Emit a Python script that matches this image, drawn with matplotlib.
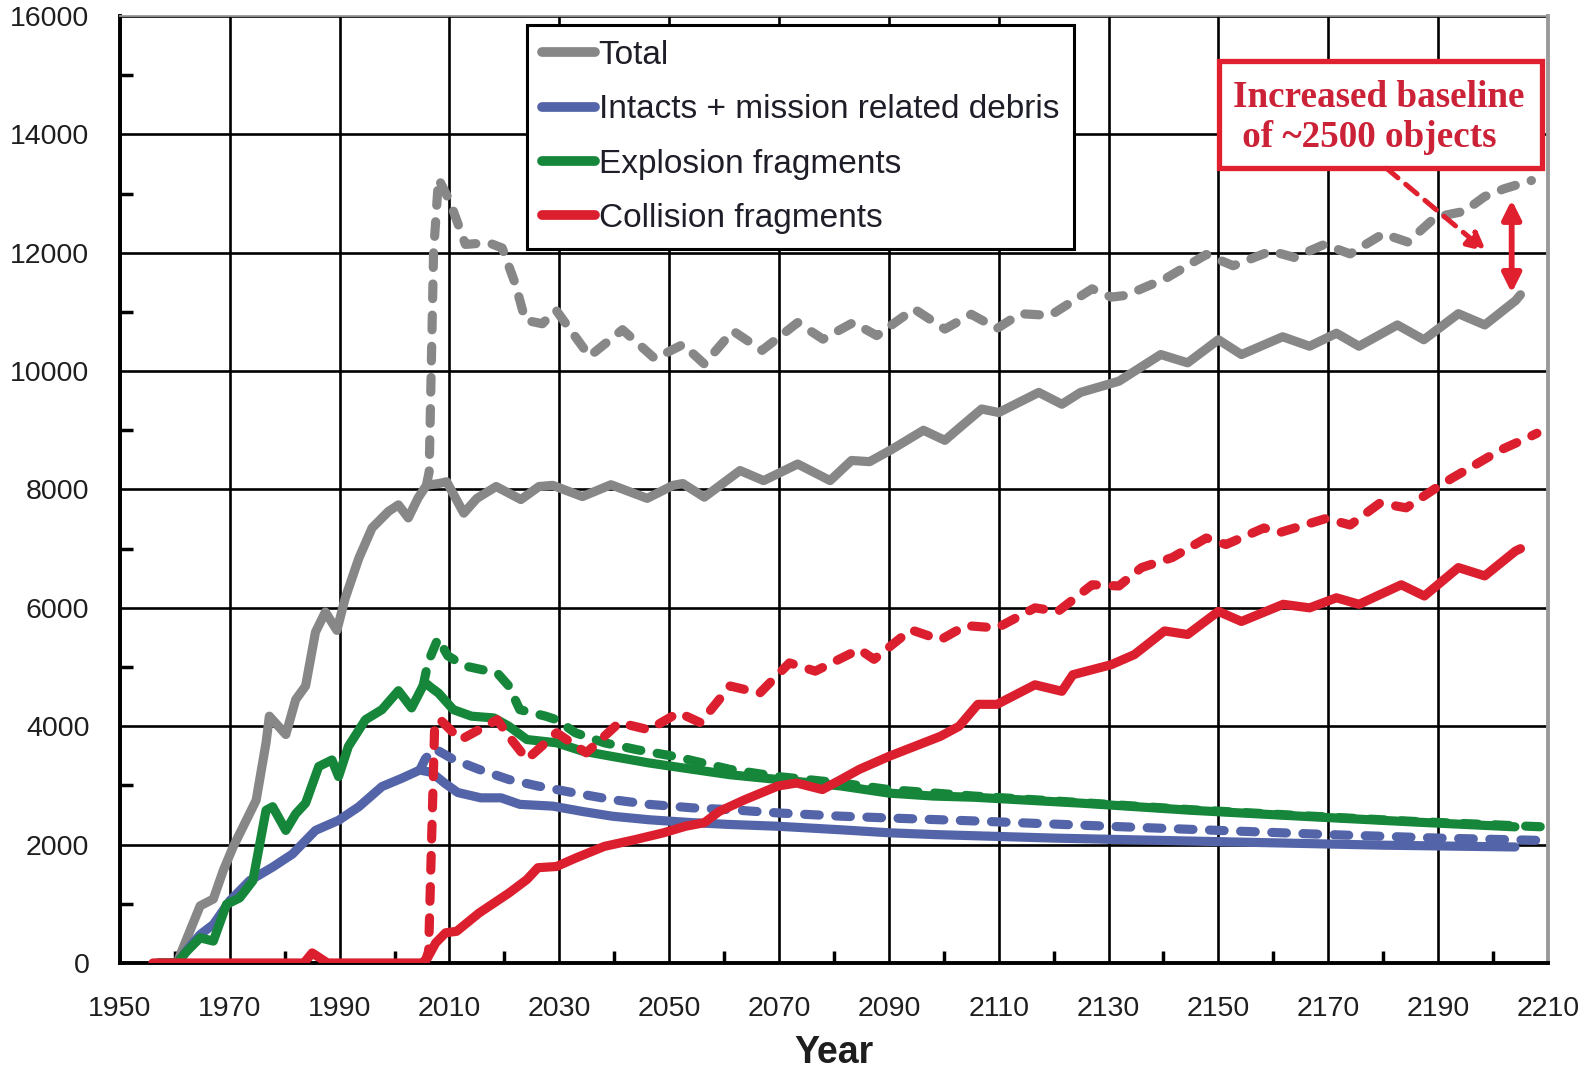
import matplotlib
matplotlib.use("Agg")
import matplotlib.pyplot as plt
from matplotlib.patches import Rectangle

# --- debris population projections (number of objects) ---
total_solid_yr = [1957, 1960.4, 1961.6, 1963, 1964.6, 1967, 1968.8, 1970.6, 1973, 1974.8,
                  1976.6, 1977.2, 1980.2, 1982, 1983.8, 1985.6, 1987.4, 1989.5, 1991, 1993.5,
                  1995.9, 1998.9, 2000.7, 2002.5, 2004.3, 2005.8, 2008, 2009.5, 2012.6, 2015,
                  2018.5, 2023, 2026.3, 2028.8, 2034.2, 2039.4, 2046, 2050.7, 2052.5, 2056.4,
                  2062.9, 2067.2, 2073.4, 2079.3, 2083.2, 2086.5, 2090.4, 2096.3, 2100.2, 2102.7,
                  2106.9, 2110, 2117.3, 2121.5, 2124.9, 2131.9, 2139.5, 2144.4, 2150, 2154.2,
                  2161.7, 2166.6, 2171.5, 2175.6, 2182.6, 2187.4, 2193.7, 2198.5, 2204.1, 2205]
total_solid = [0, 0, 280, 600, 965, 1080, 1560, 1960, 2410, 2750,
               3720, 4170, 3860, 4450, 4680, 5590, 5930, 5620, 6160, 6840,
               7350, 7630, 7740, 7520, 7860, 8070, 8100, 8130, 7600, 7850,
               8050, 7830, 8050, 8070, 7880, 8080, 7850, 8070, 8100, 7870,
               8320, 8150, 8430, 8150, 8490, 8470, 8670, 9000, 8830, 9030,
               9360, 9300, 9640, 9440, 9640, 9830, 10280, 10140, 10530, 10280,
               10580, 10420, 10640, 10420, 10780, 10530, 10970, 10780, 11190, 11290]

total_dash_yr = [2005.8, 2006.3, 2007.1, 2008, 2010.1, 2012.9, 2017.1, 2019.6, 2022, 2023.8,
                 2026.9, 2029.4, 2035.5, 2041.5, 2047.4, 2052.5, 2056.4, 2061.6, 2066.9, 2073.4,
                 2078, 2083.5, 2087.8, 2094.6, 2100.2, 2105, 2109.7, 2113.9, 2119.4, 2127,
                 2130.5, 2133.2, 2140.5, 2147.8, 2152.7, 2159.6, 2163.8, 2169.3, 2174, 2180,
                 2184.5, 2189.5, 2194.8, 2198.5, 2202, 2207]
total_dash = [8070, 8300, 12000, 13250, 12860, 12140, 12170, 12080, 11470, 10860,
              10800, 11030, 10250, 10700, 10210, 10450, 10120, 10680, 10350, 10820,
              10540, 10820, 10600, 11050, 10710, 10960, 10720, 10970, 10940, 11390,
              11250, 11280, 11570, 11970, 11780, 12030, 11920, 12140, 11980, 12320,
              12180, 12600, 12700, 12950, 13080, 13220]

intact_solid_yr = [1957, 1960.4, 1962.5, 1964.6, 1967, 1970, 1973.6, 1977.8, 1981.4, 1985.6,
                   1989.8, 1993.5, 1997.7, 2001.3, 2004.6, 2006.7, 2009.1, 2011.5, 2015.7, 2019.4,
                   2022.8, 2028.8, 2034.2, 2039.6, 2046.3, 2054.4, 2061.1, 2069.8, 2081.3, 2090,
                   2098.1, 2105.5, 2120, 2140, 2160, 2180, 2204]
intact_solid = [0, 0, 250, 480, 650, 1050, 1390, 1620, 1840, 2240,
                2410, 2640, 2980, 3120, 3260, 3220, 3040, 2880, 2790, 2790,
                2680, 2650, 2560, 2480, 2420, 2370, 2340, 2310, 2250, 2200,
                2170, 2150, 2110, 2070, 2030, 1990, 1960]

intact_dash_yr = [2004.6, 2005.6, 2007.3, 2010.7, 2015.4, 2020.8, 2026.1, 2032.9, 2039.6, 2046.3,
                  2054.4, 2061.1, 2069.8, 2081.3, 2090, 2105.5, 2130, 2150, 2170, 2190, 2209]
intact_dash = [3260, 3450, 3620, 3440, 3270, 3100, 2990, 2870, 2760, 2680,
               2620, 2590, 2535, 2480, 2450, 2400, 2310, 2240, 2170, 2110, 2070]

expl_solid_yr = [1957, 1960.4, 1962.2, 1964.6, 1967, 1969.4, 1971.8, 1974.2, 1976.6, 1977.8,
                 1980.2, 1982, 1983.8, 1986.2, 1988.6, 1989.8, 1991.6, 1994.7, 1997.7, 2000.7,
                 2003.1, 2005.5, 2006.7, 2008, 2010.7, 2014, 2018.1, 2020.8, 2024.1, 2029.5,
                 2034.2, 2039.6, 2046.3, 2054.4, 2061.1, 2069.8, 2081.3, 2090, 2098.1, 2105.5,
                 2125, 2145, 2165, 2186, 2204]
expl_solid = [0, 0, 200, 425, 370, 990, 1100, 1390, 2580, 2640,
              2240, 2520, 2700, 3320, 3430, 3150, 3660, 4110, 4280, 4600,
              4310, 4740, 4650, 4560, 4280, 4170, 4140, 4000, 3775, 3720,
              3580, 3490, 3380, 3270, 3180, 3100, 2990, 2870, 2820, 2800,
              2700, 2580, 2480, 2380, 2300]

expl_dash_yr = [2005.2, 2006.1, 2007.9, 2009.7, 2012.7, 2018.7, 2020.8, 2022.8, 2027.5, 2029.5,
                2032.9, 2038.2, 2044.3, 2051, 2061.1, 2069.8, 2081.3, 2090, 2105.5, 2125,
                2145, 2165, 2186, 2209]
expl_dash = [4680, 5080, 5480, 5190, 5020, 4900, 4680, 4280, 4170, 4110,
             3890, 3720, 3600, 3490, 3270, 3150, 3040, 2930, 2820, 2710,
             2590, 2490, 2390, 2300]

coll_solid_yr = [1956, 1983.5, 1985, 1987.8, 2005, 2006, 2007.5, 2009.3, 2011.3, 2015.4,
                 2020.8, 2024.1, 2026.1, 2029.5, 2032.9, 2038.2, 2043.6, 2049, 2053, 2056.4,
                 2059.1, 2063.8, 2069.8, 2073.2, 2077.9, 2081.3, 2084.6, 2090, 2094.7, 2099.4,
                 2102.8, 2106.2, 2109.7, 2116.6, 2121.5, 2123.5, 2130.5, 2134.7, 2140.2, 2144.4,
                 2150, 2154.2, 2161.8, 2166.6, 2171.5, 2175.6, 2183.3, 2187.5, 2193.7, 2198.5,
                 2204.1, 2205]
coll_solid = [0, 0, 170, 0, 0, 85, 340, 510, 535, 845,
              1180, 1410, 1610, 1630, 1770, 1970, 2080, 2200, 2310, 2370,
              2560, 2760, 2990, 3040, 2930, 3100, 3270, 3490, 3660, 3830,
              4000, 4370, 4370, 4700, 4590, 4870, 5040, 5210, 5610, 5550,
              5940, 5770, 6060, 6000, 6170, 6060, 6390, 6200, 6680, 6540,
              6960, 7000]

coll_dash_yr = [2005.5, 2006.2, 2007.3, 2008.2, 2012, 2018.7, 2020.8, 2024.1, 2027.5, 2029.5,
                2034.9, 2040.9, 2046.3, 2051.7, 2055.7, 2061.1, 2066.5, 2071.9, 2076.6, 2084.6,
                2087.3, 2094, 2099.4, 2104, 2109.7, 2116.6, 2120.8, 2127, 2131.9, 2136,
                2141.6, 2147.8, 2151.4, 2158.3, 2161.1, 2169.6, 2174, 2179.4, 2184.2, 2189.7,
                2192.7, 2197, 2201.2, 2206.7, 2208]
coll_dash = [0, 200, 4000, 4120, 3770, 4110, 3830, 3440, 3720, 3890,
             3550, 4060, 3940, 4230, 4060, 4680, 4560, 5070, 4930, 5300,
             5130, 5630, 5460, 5700, 5660, 6000, 5940, 6390, 6370, 6680,
             6850, 7180, 7070, 7350, 7270, 7510, 7400, 7770, 7690, 8030,
             8200, 8430, 8660, 8890, 8950]

labels = ["Total", "Intacts + mission related debris",
          "Explosion fragments", "Collision fragments"]

GREY = "#878787"
BLUE = "#5464a8"
GREEN = "#16873a"
RED = "#dc1f2e"
LW = 6.6
DASH = (0, (1.6, 1.8))

plt.rcParams["font.family"] = ["Liberation Sans", "DejaVu Sans"]

fig = plt.figure(figsize=(15.93, 10.72), dpi=100)
ax = fig.add_axes([0.0753, 0.1017, 0.8964, 0.8834])

series = [
    (total_solid_yr, total_solid, total_dash_yr, total_dash, GREY),
    (intact_solid_yr, intact_solid, intact_dash_yr, intact_dash, BLUE),
    (expl_solid_yr, expl_solid, expl_dash_yr, expl_dash, GREEN),
    (coll_solid_yr, coll_solid, coll_dash_yr, coll_dash, RED),
]
handles = []
for (xs, ys, xd, yd, c), lab in zip(series, labels):
    h, = ax.plot(xs, ys, color=c, lw=LW, solid_capstyle="round",
                 solid_joinstyle="round", label=lab, zorder=3)
    ax.plot(xd, yd, color=c, lw=LW, linestyle=DASH, dash_capstyle="round",
            dash_joinstyle="round", zorder=3)
    handles.append(h)

ax.set_xlim(1950, 2210)
ax.set_ylim(0, 16000)
ax.set_xticks(range(1950, 2211, 20))
ax.set_xticks(range(1960, 2210, 20), minor=True)
ax.set_yticks(range(0, 16001, 2000))
ax.set_yticks(range(1000, 16000, 2000), minor=True)
ax.tick_params(which="major", direction="in", length=0, labelsize=20.5,
               labelcolor="#1e1e1e")
ax.tick_params(axis="x", which="major", pad=24)
ax.tick_params(axis="y", which="major", pad=22)
ax.tick_params(which="minor", direction="in", length=9, width=2.5, color="black")
ax.grid(True, which="major", color="black", lw=1.9)
ax.set_axisbelow(True)

for side in ("left", "bottom"):
    ax.spines[side].set_linewidth(2.8)
    ax.spines[side].set_color("black")
ax.spines["top"].set_color("#9a9a9a")
ax.spines["top"].set_linewidth(1.3)
ax.spines["right"].set_color("#9a9a9a")
ax.spines["right"].set_linewidth(2.8)

ax.set_xlabel("Year", fontsize=27, fontweight="bold", color="#1e1e1e", labelpad=9)

leg = ax.legend(handles=handles, loc="upper left",
                bbox_to_anchor=(527 / 1593, 1 - 25 / 1072),
                bbox_transform=fig.transFigure, borderaxespad=0,
                fontsize=24, handlelength=1.6, handletextpad=0.1,
                labelspacing=0.7, borderpad=0.45, fancybox=False,
                framealpha=1, edgecolor="black")
leg.get_frame().set_linewidth(2.2)
leg.set_zorder(6)
for t in leg.get_texts():
    t.set_color("#1e1e28")
for lh in leg.legend_handles:
    lh.set_linewidth(7)

# call-out box with the baseline note
ax.add_patch(Rectangle((2150.1, 13432), 58.8, 1808, fc="white", ec="#e0202e",
                       lw=3.8, zorder=7, clip_on=False))
ax.text(2152.6, 14280, "Increased baseline\n of ~2500 objects",
        family=["Liberation Serif", "DejaVu Serif"], fontweight="bold",
        fontsize=26.7, color="#cc2238", ha="left", va="center",
        linespacing=1.18, zorder=8)

ax.annotate("", xy=(2198.8, 12018), xytext=(2180.6, 13427),
            arrowprops=dict(arrowstyle="-|>", color="#e0202e", lw=3.6,
                            linestyle=(0, (3, 2)), mutation_scale=28,
                            shrinkA=0, shrinkB=0), zorder=7)
ax.annotate("", xy=(2203.4, 11320), xytext=(2203.4, 12892),
            arrowprops=dict(arrowstyle="<|-|>", color="#e0202e", lw=4.2,
                            mutation_scale=28, shrinkA=0, shrinkB=0), zorder=7)

fig.savefig("out.png", dpi=100)
